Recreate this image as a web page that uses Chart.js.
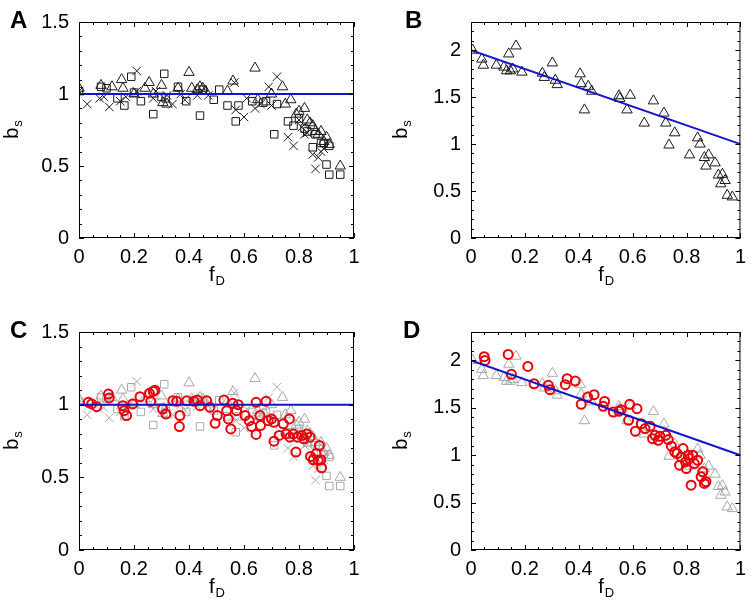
<!DOCTYPE html>
<html>
<head>
<meta charset="utf-8">
<script src="https://cdn.jsdelivr.net/npm/chart.js@4"></script>
<style>
  body { margin: 0; background: #fff; }
  #wrap { position: relative; width: 753px; height: 606px; }
  canvas { position: absolute; }
</style>
</head>
<body>
<div id="wrap">
  <canvas id="panelA" width="376" height="300" style="left:0;top:0"></canvas>
  <canvas id="panelB" width="377" height="300" style="left:376px;top:0"></canvas>
  <canvas id="panelC" width="376" height="306" style="left:0;top:300px"></canvas>
  <canvas id="panelD" width="377" height="306" style="left:376px;top:300px"></canvas>
</div>
<script>
// ---- data (fD, bs) ----
const squaresA = [[0.0,1.02],[0.08,1.05],[0.1,1.04],[0.14,0.97],[0.165,0.92],[0.19,1.12],[0.2,1.01],[0.225,0.95],[0.27,0.86],[0.3,0.98],[0.31,1.14],[0.315,0.97],[0.36,1.05],[0.39,0.95],[0.44,0.85],[0.45,1.03],[0.49,0.96],[0.51,1.03],[0.54,0.92],[0.57,0.81],[0.58,0.92],[0.63,0.95],[0.67,0.94],[0.68,0.95],[0.71,0.72],[0.72,0.93],[0.76,0.81],[0.78,0.78],[0.8,0.83],[0.82,0.76],[0.83,0.74],[0.85,0.63],[0.86,0.72],[0.88,0.66],[0.89,0.66],[0.91,0.64],[0.9,0.51],[0.91,0.44],[0.95,0.44]];
const trianglesA = [[0.0,1.04],[0.08,1.06],[0.12,1.05],[0.155,1.1],[0.16,1.04],[0.2,1.0],[0.24,1.04],[0.255,1.08],[0.27,1.0],[0.3,1.06],[0.305,0.94],[0.32,0.93],[0.36,1.04],[0.4,1.15],[0.41,1.04],[0.43,1.03],[0.44,1.05],[0.45,1.04],[0.46,1.02],[0.54,1.02],[0.56,1.09],[0.64,1.18],[0.65,0.96],[0.7,1.0],[0.74,1.05],[0.75,0.93],[0.77,0.96],[0.79,0.86],[0.8,0.88],[0.82,0.9],[0.83,0.82],[0.84,0.8],[0.85,0.78],[0.86,0.74],[0.87,0.72],[0.88,0.74],[0.9,0.7],[0.89,0.67],[0.91,0.65],[0.95,0.5]];
const crossesA = [[0.0,1.02],[0.03,0.93],[0.075,0.97],[0.09,0.98],[0.11,0.91],[0.15,0.95],[0.17,0.98],[0.21,1.16],[0.21,1.02],[0.27,0.97],[0.28,1.02],[0.32,0.99],[0.34,0.93],[0.37,1.0],[0.385,0.96],[0.43,0.99],[0.47,0.99],[0.565,1.08],[0.57,0.89],[0.6,0.84],[0.61,0.97],[0.64,0.9],[0.66,0.93],[0.69,1.05],[0.7,0.92],[0.72,1.12],[0.76,0.7],[0.78,0.64],[0.8,0.82],[0.81,0.77],[0.82,0.72],[0.83,0.73],[0.85,0.58],[0.86,0.48],[0.87,0.56],[0.88,0.6],[0.89,0.62]];
const trianglesB = [[0.006,2.0],[0.04,1.905],[0.046,1.84],[0.094,1.84],[0.122,1.82],[0.132,1.78],[0.14,1.96],[0.146,1.78],[0.155,1.8],[0.167,2.045],[0.189,1.766],[0.265,1.755],[0.272,1.71],[0.302,1.864],[0.313,1.68],[0.32,1.633],[0.405,1.748],[0.409,1.643],[0.421,1.364],[0.435,1.615],[0.448,1.563],[0.549,1.514],[0.552,1.486],[0.579,1.364],[0.591,1.52],[0.643,1.224],[0.677,1.46],[0.716,1.33],[0.723,1.224],[0.735,0.99],[0.756,1.12],[0.811,0.885],[0.841,1.066],[0.85,1.0],[0.866,0.857],[0.872,0.766],[0.882,0.885],[0.906,0.8],[0.918,0.67],[0.927,0.577],[0.933,0.678],[0.943,0.612],[0.951,0.455],[0.97,0.437]];
const circlesC = [[0.034,1.016],[0.046,1.005],[0.064,0.986],[0.107,1.073],[0.11,1.046],[0.159,0.993],[0.164,0.959],[0.173,0.925],[0.195,1.005],[0.222,1.055],[0.256,1.078],[0.261,1.023],[0.27,1.091],[0.276,1.1],[0.304,0.97],[0.316,0.936],[0.341,1.027],[0.355,1.023],[0.367,0.925],[0.365,0.849],[0.392,1.027],[0.418,1.023],[0.43,1.032],[0.44,0.993],[0.464,1.027],[0.476,0.982],[0.495,0.872],[0.503,0.925],[0.527,1.032],[0.537,0.959],[0.543,0.902],[0.552,0.833],[0.559,1.009],[0.579,1.0],[0.573,0.959],[0.604,0.925],[0.619,0.89],[0.628,0.849],[0.644,1.016],[0.644,0.795],[0.658,0.925],[0.66,0.856],[0.68,1.023],[0.688,0.89],[0.7,0.902],[0.709,0.879],[0.709,0.749],[0.728,0.788],[0.743,0.868],[0.753,0.799],[0.765,0.902],[0.767,0.776],[0.779,0.799],[0.789,0.674],[0.794,0.776],[0.81,0.788],[0.818,0.765],[0.828,0.799],[0.84,0.776],[0.842,0.644],[0.852,0.621],[0.862,0.662],[0.874,0.719],[0.879,0.621],[0.882,0.566],[0.87,0.616]];
const circlesD = [[0.049,2.04],[0.052,2.0],[0.138,2.063],[0.15,1.853],[0.211,1.937],[0.234,1.754],[0.287,1.737],[0.293,1.691],[0.35,1.744],[0.357,1.807],[0.387,1.782],[0.409,1.537],[0.433,1.614],[0.457,1.639],[0.491,1.516],[0.496,1.568],[0.528,1.456],[0.549,1.463],[0.557,1.48],[0.585,1.368],[0.589,1.537],[0.616,1.491],[0.61,1.253],[0.632,1.333],[0.646,1.281],[0.665,1.305],[0.674,1.175],[0.683,1.21],[0.701,1.2],[0.695,1.158],[0.723,1.21],[0.732,1.165],[0.744,1.095],[0.756,1.035],[0.765,1.018],[0.774,0.895],[0.78,0.982],[0.787,1.07],[0.796,0.93],[0.799,0.86],[0.806,1.0],[0.811,0.965],[0.817,0.684],[0.823,1.0],[0.829,0.912],[0.841,0.947],[0.854,0.772],[0.86,0.825],[0.866,0.702],[0.872,0.72]];
const fitFlat = [[0,1],[1,1]];
const fitSlope = [[0,2],[1,1]];

const xTicks = [0, 0.2, 0.4, 0.6, 0.8, 1];
const yTicksA = [0, 0.5, 1, 1.5];
const yTicksB = [0, 0.5, 1, 1.5, 2];

const BLACK = '#1a1a1a';
const GREY = '#a8a8a8';
const RED = '#e8000b';
const BLUE = '#1414cc';
const FONT = "'Liberation Sans', Arial, sans-serif";

const pts = arr => arr.map(p => ({x: p[0], y: p[1]}));

function marks(data, style, color, r, bw) {
  return { type: 'scatter', data: pts(data), pointStyle: style, pointRadius: r,
           borderColor: color, backgroundColor: 'transparent', pointBorderWidth: bw || 1 };
}
function fitLine(data) {
  return { type: 'line', data: pts(data), borderColor: BLUE, borderWidth: 2,
           pointRadius: 0, fill: false };
}

// frame, inward ticks, labels with subscripts
function subLabel(ctx, main, sub, x, y, size) {
  ctx.font = size + 'px ' + FONT;
  const w1 = ctx.measureText(main).width;
  ctx.font = Math.round(size * 0.65) + 'px ' + FONT;
  const w2 = ctx.measureText(sub).width;
  const x0 = x - (w1 + w2) / 2;
  ctx.textAlign = 'left';
  ctx.textBaseline = 'middle';
  ctx.font = size + 'px ' + FONT;
  ctx.fillText(main, x0, y);
  ctx.font = Math.round(size * 0.65) + 'px ' + FONT;
  ctx.fillText(sub, x0 + w1 + 1, y + size * 0.32);
}

const decor = {
  id: 'decor',
  afterDraw(chart, args, o) {
    const {ctx, chartArea: a, scales: {x, y}} = chart;
    ctx.save();
    ctx.strokeStyle = '#000';
    ctx.lineWidth = 1;
    ctx.strokeRect(a.left + 0.5, a.top + 0.5, a.right - a.left - 1, a.bottom - a.top - 1);
    ctx.beginPath();
    for (let i = 0; i <= 20; i++) {
      const v = i * 0.05;
      const px = Math.round(x.getPixelForValue(v)) + 0.5;
      const len = (i % 4 === 0) ? 5 : 3;
      ctx.moveTo(px, a.bottom); ctx.lineTo(px, a.bottom - len);
      ctx.moveTo(px, a.top); ctx.lineTo(px, a.top + len);
    }
    for (let i = 0; i * 0.1 <= y.max + 1e-9; i++) {
      const v = i * 0.1;
      const py = Math.round(y.getPixelForValue(v)) + 0.5;
      const len = (i % 5 === 0) ? 5 : 3;
      ctx.moveTo(a.left, py); ctx.lineTo(a.left + len, py);
      ctx.moveTo(a.right, py); ctx.lineTo(a.right - len, py);
    }
    ctx.stroke();

    ctx.fillStyle = '#000';
    ctx.font = 'bold 24px ' + FONT;
    ctx.textAlign = 'left';
    ctx.textBaseline = 'alphabetic';
    ctx.fillText(o.letter, o.lx, o.ly);

    subLabel(ctx, 'f', 'D', (a.left + a.right) / 2, a.bottom + 37, 20);
    ctx.translate(o.ty, (a.top + a.bottom) / 2);
    ctx.rotate(-Math.PI / 2);
    subLabel(ctx, 'b', 's', 0, 0, 20);
    ctx.restore();
  }
};

function panel(id, datasets, yMax, yTicks, geo) {
  new Chart(document.getElementById(id), {
    data: { datasets },
    plugins: [decor],
    options: {
      responsive: false,
      animation: false,
      layout: { padding: { left: 0, top: geo.top, right: geo.right, bottom: 0 } },
      plugins: { legend: { display: false }, tooltip: { enabled: false },
                 decor: { letter: geo.letter, lx: geo.lx, ly: geo.ly, ty: geo.ty } },
      scales: {
        x: {
          type: 'linear', min: 0, max: 1,
          grid: { display: false, drawTicks: false },
          border: { display: false },
          afterBuildTicks: s => { s.ticks = xTicks.map(v => ({ value: v })); },
          afterFit: s => { s.height = geo.xh; },
          ticks: { color: '#000', padding: 7, maxRotation: 0, font: { family: FONT, size: 20 },
                   callback: v => String(+v.toFixed(1)) }
        },
        y: {
          type: 'linear', min: 0, max: yMax,
          grid: { display: false, drawTicks: false },
          border: { display: false },
          afterBuildTicks: s => { s.ticks = yTicks.map(v => ({ value: v })); },
          afterFit: s => { s.width = geo.yw; },
          ticks: { color: '#000', padding: 10, font: { family: FONT, size: 20 },
                   callback: v => String(+v.toFixed(1)) }
        }
      }
    }
  });
}

panel('panelA', [
  fitLine(fitFlat),
  marks(squaresA, 'rect', BLACK, 5.3),
  marks(trianglesA, 'triangle', BLACK, 6),
  marks(crossesA, 'crossRot', BLACK, 6)
], 1.5, yTicksA, { top: 20, right: 22, xh: 62, yw: 79, letter: 'A', lx: 10, ly: 28, ty: 12 });

panel('panelB', [
  fitLine(fitSlope),
  marks(trianglesB, 'triangle', BLACK, 6)
], 2.3, yTicksB, { top: 20, right: 9, xh: 62, yw: 95, letter: 'B', lx: 29, ly: 28, ty: 25 });

panel('panelC', [
  fitLine(fitFlat),
  marks(circlesC, 'circle', RED, 4.5, 2),
  marks(squaresA, 'rect', GREY, 5.3),
  marks(trianglesA, 'triangle', GREY, 6),
  marks(crossesA, 'crossRot', GREY, 6)
], 1.5, yTicksA, { top: 32, right: 22, xh: 56, yw: 79, letter: 'C', lx: 10, ly: 38, ty: 12 });

panel('panelD', [
  fitLine(fitSlope),
  marks(circlesD, 'circle', RED, 4.5, 2),
  marks(trianglesB, 'triangle', GREY, 6)
], 2.3, yTicksB, { top: 32, right: 9, xh: 56, yw: 95, letter: 'D', lx: 27, ly: 38, ty: 25 });
</script>
</body>
</html>
